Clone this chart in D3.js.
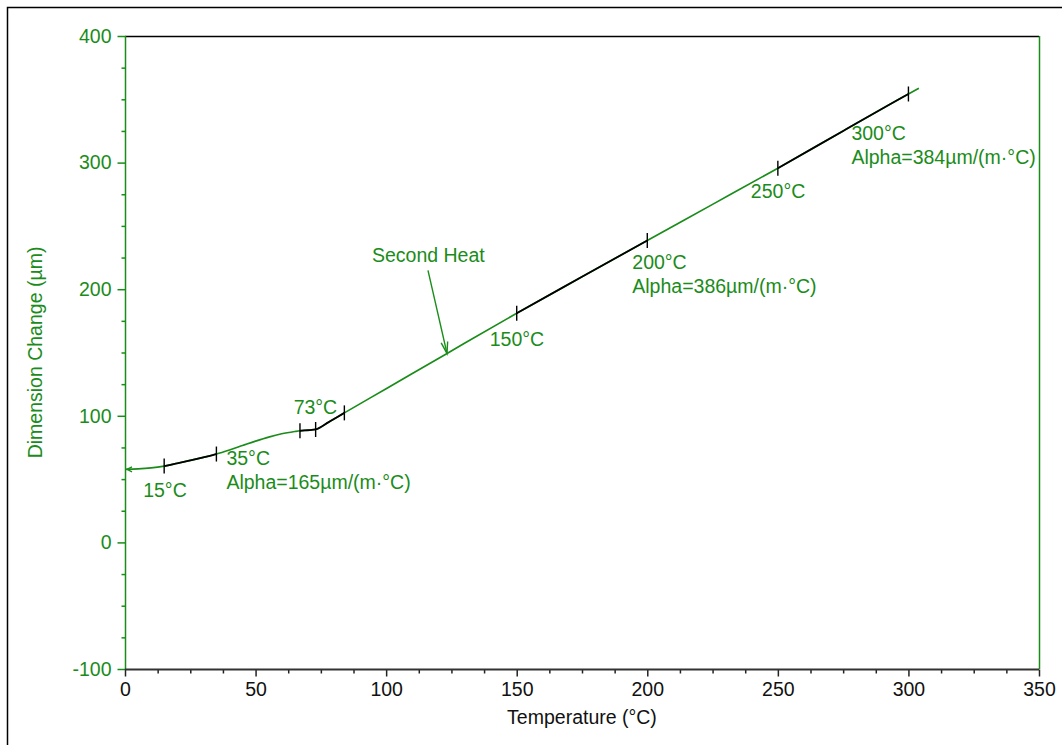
<!DOCTYPE html>
<html>
<head>
<meta charset="utf-8">
<script src="https://cdn.jsdelivr.net/npm/d3@7"></script>
<style>
  html, body { margin: 0; padding: 0; background: #fff; }
  svg { display: block; font-family: "Liberation Sans", Arial, sans-serif; }
</style>
</head>
<body>
<svg id="chart" width="1062" height="745"></svg>
<script>
// Dilatometer run: dimension change vs temperature (second heat)
const temperature = [0, 5, 10, 15, 20, 25, 30, 35, 40, 45, 50, 55, 60, 65, 67, 70, 73, 78, 84,
                     100, 123, 150, 175, 200, 225, 250, 275, 300, 304];
const dimension   = [57.7, 58.0, 58.8, 60.3, 62.5, 64.8, 67.2, 69.8, 73.0, 76.5, 80.0, 83.2, 85.8, 87.6, 88.2, 88.6, 89.2, 95.0, 102.3,
                     121.4, 148.9, 181.0, 209.8, 238.5, 267.0, 295.6, 325.0, 354.2, 358.7];

// Analysis markers and the spans evaluated between them
const markerTemps = [15, 35, 67, 73, 84, 150, 200, 250, 300];
const analysisSpans = [[15, 35], [67, 84], [150, 200], [250, 300]];

// Annotation labels anchored at curve temperatures
const labelTemps = [15, 35, 73, 150, 200, 250, 300];
const labelLines = [
  ["15°C"],
  ["35°C", "Alpha=165µm/(m·°C)"],
  ["73°C"],
  ["150°C"],
  ["200°C", "Alpha=386µm/(m·°C)"],
  ["250°C"],
  ["300°C", "Alpha=384µm/(m·°C)"]
];
const curveName = "Second Heat";
const curveNameTemp = 123.3;

// Axes
const xDomain = [0, 350];
const yDomain = [-100, 400];
const xTickValues = [0, 50, 100, 150, 200, 250, 300, 350];
const yTickValues = [-100, 0, 100, 200, 300, 400];
const xTitle = "Temperature (°C)";
const yTitle = "Dimension Change (µm)";

// ---- drawing ----
const GREEN = "#1a8c1a";
const FONT = 19.5;
const svg = d3.select("#chart");
const plot = { left: 125, right: 1039, top: 36, bottom: 669 };
const plainNumber = v => String(v);   // hyphen-minus for negatives

const x = d3.scaleLinear().domain(xDomain).range([plot.left, plot.right]);
const y = d3.scaleLinear().domain(yDomain).range([plot.bottom, plot.top]);

// outer frame
svg.append("path")
  .attr("d", `M7.5,760 L7.5,7.5 L1075,7.5`)
  .attr("fill", "none").attr("stroke", "#000").attr("stroke-width", 1.5);

// plot frame: top in black, right in green
svg.append("line")
  .attr("x1", plot.left).attr("x2", plot.right)
  .attr("y1", plot.top + 0.5).attr("y2", plot.top + 0.5)
  .attr("stroke", "#000").attr("stroke-width", 1.5);
svg.append("line")
  .attr("x1", plot.right + 0.5).attr("x2", plot.right + 0.5)
  .attr("y1", plot.top).attr("y2", plot.bottom)
  .attr("stroke", GREEN).attr("stroke-width", 1.5);

// Y axis (green) with minor ticks every 25
const yMinor = d3.range(yDomain[0], yDomain[1] + 0.1, 25).filter(v => !yTickValues.includes(v));
const yAxisG = svg.append("g").attr("transform", `translate(${plot.left + 0.5},0)`);
yAxisG.call(d3.axisLeft(y).tickValues(yMinor).tickSize(4).tickFormat(""))
  .call(g => g.select(".domain").remove());
yAxisG.append("g")
  .call(d3.axisLeft(y).tickValues(yTickValues).tickSize(8).tickPadding(6).tickFormat(plainNumber))
  .call(g => g.select(".domain").remove())
  .call(g => g.selectAll("text").attr("font-size", FONT).attr("fill", GREEN).attr("font-family", null));
yAxisG.selectAll(".tick line").attr("stroke", GREEN).attr("stroke-width", 1.5);
yAxisG.append("line")
  .attr("y1", plot.top).attr("y2", plot.bottom)
  .attr("stroke", GREEN).attr("stroke-width", 1.5);

// X axis (dark) with minor ticks every 12.5
const xMinor = d3.range(xDomain[0], xDomain[1] + 0.1, 12.5).filter(v => !xTickValues.includes(v));
const xAxisG = svg.append("g").attr("transform", `translate(0,${plot.bottom + 0.5})`);
xAxisG.call(d3.axisBottom(x).tickValues(xMinor).tickSize(4).tickFormat(""))
  .call(g => g.select(".domain").remove());
xAxisG.append("g")
  .call(d3.axisBottom(x).tickValues(xTickValues).tickSize(7).tickPadding(6).tickFormat(plainNumber))
  .call(g => g.select(".domain").remove())
  .call(g => g.selectAll("text").attr("font-size", FONT).attr("fill", "#111").attr("font-family", null));
xAxisG.selectAll(".tick line").attr("stroke", "#222").attr("stroke-width", 1.5);
xAxisG.append("line")
  .attr("x1", plot.left).attr("x2", plot.right)
  .attr("stroke", "#333").attr("stroke-width", 2);

// axis titles
svg.append("text")
  .attr("x", (plot.left + plot.right) / 2).attr("y", 724)
  .attr("text-anchor", "middle").attr("font-size", FONT).attr("fill", "#111")
  .text(xTitle);
svg.append("text")
  .attr("transform", `translate(42,${(plot.top + plot.bottom) / 2}) rotate(-90)`)
  .attr("text-anchor", "middle").attr("font-size", FONT).attr("fill", GREEN)
  .text(yTitle);

// curve
const data = temperature.map((t, i) => ({ t, v: dimension[i] }));
const lineGen = d3.line().x(d => x(d.t)).y(d => y(d.v)).curve(d3.curveMonotoneX);
const pathD = lineGen(data);

svg.append("path").attr("d", pathD)
  .attr("fill", "none").attr("stroke", GREEN).attr("stroke-width", 1.7);

// analysed spans drawn in black
const defs = svg.append("defs");
analysisSpans.forEach((span, i) => {
  defs.append("clipPath").attr("id", "span" + i)
    .append("rect")
    .attr("x", x(span[0])).attr("width", x(span[1]) - x(span[0]))
    .attr("y", 0).attr("height", 745);
  svg.append("path").attr("d", pathD)
    .attr("clip-path", `url(#span${i})`)
    .attr("fill", "none").attr("stroke", "#000").attr("stroke-width", 1.8);
});

// value lookup on the curve
const valueAt = t => {
  const idx = temperature.indexOf(t);
  if (idx >= 0) return dimension[idx];
  const i = d3.bisectLeft(temperature, t);
  const t0 = temperature[i - 1], t1 = temperature[i];
  return dimension[i - 1] + (dimension[i] - dimension[i - 1]) * (t - t0) / (t1 - t0);
};

// start arrow at first point
{
  const sx = x(temperature[0]) + 2, sy = y(dimension[0]);
  svg.append("path")
    .attr("d", `M${sx + 5},${sy - 2.5} L${sx},${sy} L${sx + 5},${sy + 2.5}`)
    .attr("fill", "none").attr("stroke", GREEN).attr("stroke-width", 1.3);
}

// marker ticks
svg.selectAll(".marker").data(markerTemps).join("line")
  .attr("class", "marker")
  .attr("x1", d => x(d)).attr("x2", d => x(d))
  .attr("y1", d => y(valueAt(d)) - 7.5).attr("y2", d => y(valueAt(d)) + 7.5)
  .attr("stroke", "#000").attr("stroke-width", 1.4);

// label offsets from their anchor points (px)
const labelOffsets = [[-21, 31], [10, 11], [-22, -15], [-27, 33], [-15, 29], [-27, 30], [-57, 46]];
labelTemps.forEach((t, i) => {
  const ax = x(t), ay = y(valueAt(t));
  const txt = svg.append("text")
    .attr("font-size", FONT).attr("fill", GREEN);
  labelLines[i].forEach((s, j) => {
    txt.append("tspan")
      .attr("x", ax + labelOffsets[i][0])
      .attr("y", ay + labelOffsets[i][1] + j * 24)
      .text(s);
  });
});

// curve name with pointer arrow
{
  const tx = x(curveNameTemp), ty = y(valueAt(curveNameTemp));
  svg.append("text")
    .attr("x", tx - 75).attr("y", ty - 91)
    .attr("font-size", FONT).attr("fill", GREEN)
    .text(curveName);
  const bx = tx - 19, by = ty - 83;
  svg.append("line")
    .attr("x1", bx).attr("y1", by).attr("x2", tx).attr("y2", ty)
    .attr("stroke", GREEN).attr("stroke-width", 1.4);
  const ang = Math.atan2(by - ty, bx - tx);
  const len = 12, spread = 0.28;
  svg.append("path")
    .attr("d", `M${tx + len * Math.cos(ang - spread)},${ty + len * Math.sin(ang - spread)} L${tx},${ty} L${tx + len * Math.cos(ang + spread)},${ty + len * Math.sin(ang + spread)}`)
    .attr("fill", "none").attr("stroke", GREEN).attr("stroke-width", 1.4);
}
</script>
</body>
</html>
